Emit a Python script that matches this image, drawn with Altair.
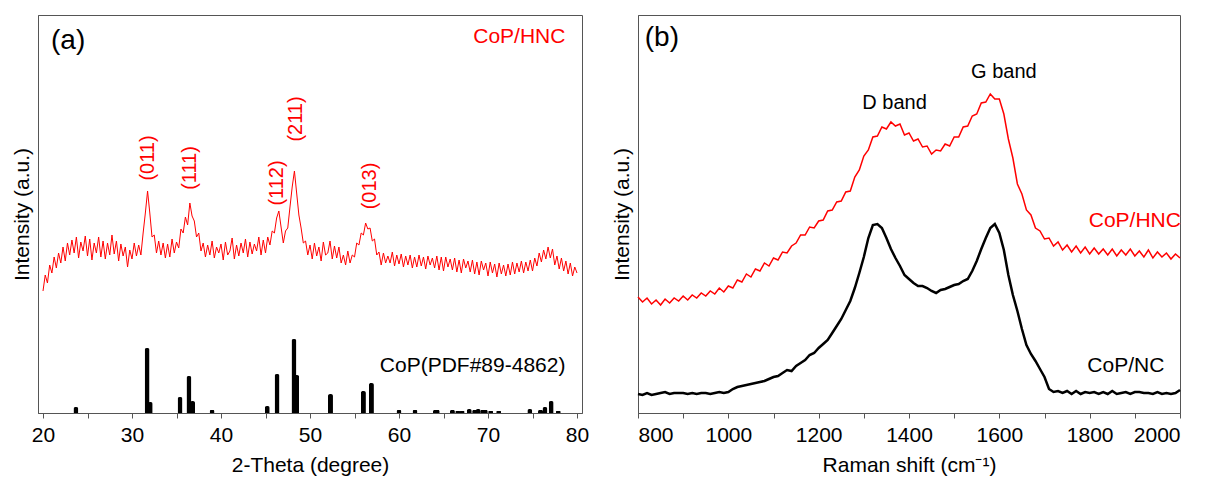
import altair as alt
import pandas as pd

# ---------------- Panel (a): XRD ----------------
xrd_start, xrd_step = 20.0, 0.25
xrd_int = [
    122, 138, 130, 148, 140, 156, 145, 160, 150, 166, 152, 170,
    158, 173, 160, 176, 155, 171, 162, 177, 157, 174, 153, 170,
    160, 176, 156, 172, 154, 170, 158, 178, 159, 172, 152, 169,
    157, 166, 146, 163, 154, 170, 157, 168, 158, 180, 200, 222,
    200, 176, 178, 160, 172, 158, 170, 155, 169, 156, 174, 160,
    171, 165, 184, 180, 196, 188, 210, 197, 192, 176, 180, 162,
    170, 156, 168, 158, 172, 155, 166, 160, 169, 153, 171, 158,
    162, 175, 154, 168, 157, 170, 160, 174, 156, 171, 159, 169,
    162, 176, 158, 173, 160, 176, 168, 182, 180, 195, 202, 186,
    170, 182, 185, 206, 226, 242, 220, 198, 185, 170, 172, 158,
    168, 154, 170, 157, 166, 152, 171, 158, 160, 172, 154, 167,
    155, 166, 150, 158, 148, 162, 150, 158, 156, 170, 168, 180,
    178, 190, 184, 185, 172, 174, 158, 161, 148, 160, 150, 157,
    150, 161, 147, 158, 149, 159, 146, 157, 148, 158, 145, 156,
    146, 158, 147, 156, 144, 157, 148, 155, 145, 157, 143, 156,
    142, 156, 146, 154, 143, 155, 141, 153, 140, 154, 145, 152,
    141, 153, 139, 151, 138, 152, 143, 150, 137, 151, 140, 149,
    136, 150, 139, 148, 137, 149, 138, 151, 139, 150, 141, 152,
    140, 151, 142, 153, 142, 155, 147, 160, 151, 163, 154, 166,
    155, 164, 148, 157, 144, 155, 142, 152, 139, 150, 137, 146,
    140,
]
xrd_x = [xrd_start + xrd_step * i for i in range(len(xrd_int))]

pdf_pos = [23.7, 31.7, 32.05, 35.4, 36.4, 36.8, 39.0, 45.2, 46.3, 48.2, 48.5,
           52.3, 56.0, 56.9, 60.0, 61.8, 64.1, 64.3, 66.0, 66.6, 67.1, 67.9,
           68.5, 68.9, 69.4, 69.7, 70.3, 71.2, 74.7, 75.9, 76.4, 77.1, 77.9]
pdf_int = [6, 65, 11, 16, 37, 12, 3, 7, 39, 74, 38,
           19, 22, 30, 3, 3, 3, 3, 3, 2, 2, 4,
           3, 4, 3, 3, 2, 2, 4, 3, 6, 12, 2]

peak_labels = ["(011)", "(111)", "(112)", "(211)", "(013)"]
peak_x = [31.8, 36.5, 46.3, 48.4, 56.7]
peak_y = [255, 245, 230, 294, 227]

# ---------------- Panel (b): Raman ----------------
raman_x = list(range(800, 2001, 10))
raman_hnc = [
    116, 111, 115, 109, 113, 108, 114, 110, 115, 112,
    117, 113, 118, 115, 120, 117, 122, 119, 125, 121,
    127, 125, 133, 131, 139, 136, 144, 142, 150, 147,
    155, 153, 161, 160, 167, 170, 178, 178, 186, 185,
    192, 193, 202, 203, 211, 212, 221, 222, 236, 243,
    257, 263, 276, 277, 286, 284, 291, 287, 289, 278,
    280, 272, 274, 266, 267, 259, 263, 262, 269, 267,
    276, 276, 286, 287, 297, 299, 310, 311, 319, 314,
    314, 299, 274, 255, 229, 219, 203, 198, 185, 182,
    174, 175, 167, 171, 163, 168, 161, 167, 160, 166,
    159, 165, 159, 164, 158, 164, 157, 163, 158, 164,
    157, 162, 156, 163, 155, 161, 156, 160, 154, 159,
    155,
]
raman_nc = [
    19, 18, 20, 18, 19, 20, 21, 19, 20, 20,
    20, 19, 20, 19, 20, 20, 19, 20, 21, 20,
    21, 24, 26, 27, 28, 29, 30, 31, 32, 34,
    36, 37, 40, 43, 42, 47, 50, 53, 58, 60,
    65, 69, 73, 80, 87, 94, 103, 112, 125, 140,
    156, 175, 188, 189, 185, 175, 164, 155, 147, 138,
    134, 130, 127, 127, 125, 122, 120, 123, 124, 126,
    128, 129, 132, 134, 142, 152, 164, 175, 185, 189,
    180, 163, 138, 118, 102, 84, 68, 59, 52, 44,
    36, 24, 21, 22, 20, 22, 19, 22, 19, 21,
    20, 21, 19, 21, 19, 22, 19, 20, 21, 19,
    21, 21, 20, 20, 19, 21, 19, 20, 19, 20,
    23,
]

RED = "#ff0000"
FONT = "Liberation Sans"
H = 398

df_xrd = pd.DataFrame({"x": xrd_x, "y": xrd_int})
df_pdf = pd.DataFrame({"x": pdf_pos, "y": pdf_int})
df_peaks = pd.DataFrame({"x": peak_x, "y": peak_y, "t": peak_labels})
df_hnc = pd.DataFrame({"x": raman_x, "y": raman_hnc})
df_nc = pd.DataFrame({"x": raman_x, "y": raman_nc})

# ---- shared encodings (a)
XA = alt.X("x:Q", scale=alt.Scale(domain=[20, 80], nice=False, zero=False),
           axis=alt.Axis(values=list(range(20, 81, 5)), format="d",
                         labelExpr="datum.value % 10 == 0 ? datum.label : ''",
                         title="2-Theta (degree)", grid=False))
YA = alt.Y("y:Q", scale=alt.Scale(domain=[0, H], nice=False),
           axis=alt.Axis(labels=False, ticks=False, grid=False, title="Intensity (a.u.)"))
# ---- shared encodings (b)
XB = alt.X("x:Q", scale=alt.Scale(domain=[800, 2000], nice=False, zero=False),
           axis=alt.Axis(values=list(range(800, 2001, 100)), format="d",
                         labelExpr="datum.value % 200 == 0 ? datum.label : ''",
                         title="Raman shift (cm⁻¹)", grid=False))
YB = alt.Y("y:Q", scale=alt.Scale(domain=[0, H], nice=False),
           axis=alt.Axis(labels=False, ticks=False, grid=False, title="Intensity (a.u.)"))


def txt(df, X, Y, **kw):
    return alt.Chart(df).mark_text(font=FONT, **kw).encode(x=X, y=Y, text="t:N")


xrd_line = alt.Chart(df_xrd).mark_line(color=RED, strokeWidth=1).encode(x=XA, y=YA)
pdf_bars = alt.Chart(df_pdf).mark_bar(color="black", width=5,
                                      cornerRadiusTopLeft=2, cornerRadiusTopRight=2).encode(x=XA, y=YA)
peaks_txt = txt(df_peaks, XA, YA, color=RED, fontSize=20, angle=270, align="center", baseline="middle")
a_lab = txt(pd.DataFrame({"x": [20.9], "y": [372], "t": ["(a)"]}), XA, YA,
            color="black", fontSize=28, align="left", baseline="middle")
a_hnc = txt(pd.DataFrame({"x": [78.7], "y": [376], "t": ["CoP/HNC"]}), XA, YA,
            color=RED, fontSize=21, align="right", baseline="middle")
a_pdf = txt(pd.DataFrame({"x": [78.7], "y": [47], "t": ["CoP(PDF#89-4862)"]}), XA, YA,
            color="black", fontSize=21, align="right", baseline="middle")

panel_a = alt.layer(xrd_line, pdf_bars, peaks_txt, a_lab, a_hnc, a_pdf).properties(
    width=544, height=H)

hnc_line = alt.Chart(df_hnc).mark_line(color=RED, strokeWidth=1.5).encode(x=XB, y=YB)
nc_line = alt.Chart(df_nc).mark_line(color="black", strokeWidth=2.5).encode(x=XB, y=YB)
b_lab = txt(pd.DataFrame({"x": [815], "y": [375], "t": ["(b)"]}), XB, YB,
            color="black", fontSize=28, align="left", baseline="middle")
b_bands = txt(pd.DataFrame({"x": [1368, 1610], "y": [310, 341], "t": ["D band", "G band"]}), XB, YB,
              color="black", fontSize=20, align="center", baseline="middle")
b_hnc = txt(pd.DataFrame({"x": [1900], "y": [192], "t": ["CoP/HNC"]}), XB, YB,
            color=RED, fontSize=21, align="center", baseline="middle")
b_nc = txt(pd.DataFrame({"x": [1880], "y": [47], "t": ["CoP/NC"]}), XB, YB,
           color="black", fontSize=21, align="center", baseline="middle")

panel_b = alt.layer(hnc_line, nc_line, b_lab, b_bands, b_hnc, b_nc).properties(
    width=542, height=H)

chart = alt.hconcat(panel_a, panel_b, spacing=20).properties(
    padding={"left": 2, "top": 6, "right": 5, "bottom": 5}
).configure(font=FONT).configure_view(
    stroke="#555555", strokeWidth=1
).configure_axis(
    labelFont=FONT, titleFont=FONT, labelFontSize=21, titleFontSize=21,
    labelColor="black", titleColor="black", titleFontWeight="normal",
    domainColor="#555555", tickColor="#555555", tickSize=5,
    labelPadding=6, titlePadding=9,
).configure_axisY(titlePadding=6)

chart.save("out.html", embed_options={"renderer": "svg", "actions": False})
